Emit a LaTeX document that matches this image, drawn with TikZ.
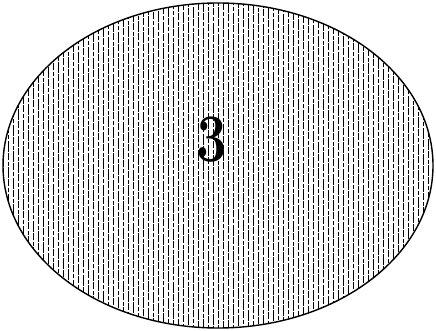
\documentclass[tikz,border=0pt]{standalone}
\usetikzlibrary{positioning}
\begin{document}
\begin{tikzpicture}[x=1pt,y=1pt]
	% Frame
	\useasboundingbox (0,0) rectangle (436,331);
	\def\cx{218}
	\def\cy{165.5}
	
	% Hatching inside the ellipse
	\begin{scope}
		\clip (\cx,\cy) ellipse [x radius=215, y radius=162.5];
		\foreach \x [evaluate=\x as \ph using {mod(\x*7.3,26)}] in {3,8,...,434}
			\draw[line width=0.95pt, dash pattern=on 11pt off 1.5pt on 4pt off 2pt on 7pt off 1pt, dash phase=\ph pt] (\x,0) -- (\x,331);
	\end{scope}
	
	% Outline
	\draw[line width=1.4pt] (\cx,\cy) ellipse [x radius=215, y radius=162.5];
	
	% Number
	\node[font=\bfseries\fontsize{68}{68}\selectfont, xscale=0.8, inner sep=0pt] (num) at (212,191) {3};
\end{tikzpicture}
\end{document}
